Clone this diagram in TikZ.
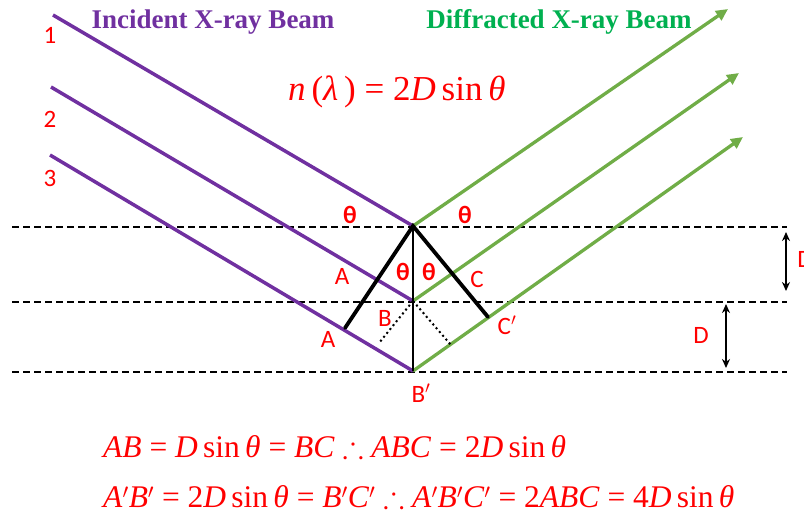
\documentclass[tikz,border=0pt]{standalone}
\usepackage{fontspec}
\usepackage{amssymb}
\setmainfont{Liberation Serif}
\newfontfamily\labfont{Carlito}
\usetikzlibrary{arrows.meta}
\definecolor{purp}{HTML}{7030A0}
\definecolor{grn}{HTML}{70AD47}
\definecolor{grntxt}{HTML}{00B050}
\definecolor{myred}{HTML}{FF0000}
\newcommand{\pr}{$^{\prime}$}
\tikzset{
  incident/.style={purp, line width=3.5pt},
  diffracted/.style={grn, line width=3.3pt, -{Triangle[length=12pt,width=11pt]}},
  plane/.style={black, line width=1.8pt, dash pattern=on 7pt off 4pt},
  construct/.style={black, line width=3.8pt},
  dotline/.style={black, line width=2pt, dash pattern=on 2pt off 3pt},
  dimarrow/.style={black, line width=1.8pt, {Stealth[length=9pt,width=8pt]}-{Stealth[length=9pt,width=8pt]}},
  lab/.style={text=myred, font=\labfont\fontsize{25}{25}\selectfont, inner sep=0pt},
  thlab/.style={text=myred, font=\labfont\bfseries\fontsize{25}{25}\selectfont, inner sep=0pt},
  title/.style={font=\bfseries\fontsize{27}{27}\selectfont, inner sep=0pt},
  eq/.style={text=myred, font=\fontsize{31.5}{31.5}\selectfont, inner sep=0pt, anchor=west}
}
\begin{document}
\begin{tikzpicture}[x=1pt,y=-1pt]
\useasboundingbox (0,0) rectangle (804,515);
% planes
\coordinate (L1) at (12,227); \coordinate (R1) at (787,227);
\coordinate (L2) at (12,302); \coordinate (R2) at (787,302);
\coordinate (L3) at (12,372); \coordinate (R3) at (787,372);
\draw[plane] (L1) -- (R1);
\draw[plane] (L2) -- (R2);
\draw[plane] (L3) -- (R3);
% reflection points
\coordinate (P1) at (413,226);
\coordinate (P2) at (413,301);
\coordinate (P3) at (413,371);
% incident rays
\coordinate (I1) at (53,15);
\coordinate (I2) at (51,87);
\coordinate (I3) at (50,155);
\draw[incident] (I1) -- (P1);
\draw[incident] (I2) -- (P2);
\draw[incident] (I3) -- (P3);
% diffracted rays
\coordinate (O1) at (728,9);
\coordinate (O2) at (739,73);
\coordinate (O3) at (743,137);
\draw[diffracted] (P1) -- (O1);
\draw[diffracted] (P2) -- (O2);
\draw[diffracted] (P3) -- (O3);
% construction
\coordinate (Ap) at (345,328);
\coordinate (Cp) at (488,317);
\coordinate (Da) at (379,343);
\coordinate (Dc) at (451,345);
\draw[construct, line cap=round] (Ap) -- (P1) -- (Cp);
\draw[black, line width=2pt] (P1) -- (P3);
\draw[dotline] (P2) -- (Da);
\draw[dotline] (P2) -- (Dc);
% dimension arrows
\coordinate (D1a) at (786,232); \coordinate (D1b) at (786,291);
\coordinate (D2a) at (726,304); \coordinate (D2b) at (726,368);
\draw[dimarrow] (D1a) -- (D1b);
\draw[dimarrow] (D2a) -- (D2b);
\node[lab] (dl1) at (805,259) {D};
\node[lab] (dl2) at (701,335) {D};
% labels
\node[lab] (n1) at (50,35) {1};
\node[lab] (n2) at (50,119) {2};
\node[lab] (n3) at (50,178) {3};
\node[thlab] (t1) at (350,215) {θ};
\node[thlab] (t2) at (465,215) {θ};
\node[thlab] (t3) at (403,272) {θ};
\node[thlab] (t4) at (429,272) {θ};
\node[lab] (la) at (342,276) {A};
\node[lab] (lc) at (477,279) {C};
\node[lab] (lb) at (385,318) {B};
\node[lab] (la2) at (328,339) {A};
\node[lab] (lc2) at (507,325) {C\pr};
\node[lab] (lb2) at (421,393) {B\pr};
% titles
\node[title, text=purp] (tin) at (213,22) {Incident X-ray Beam};
\node[title, text=grntxt] (tout) at (559,22) {Diffracted X-ray Beam};
% formulas
\node[eq, font=\fontsize{35}{35}\selectfont] (bragg) at (288,92) {\textit{n}\,(\textit{λ}\,) = 2\textit{D}\,sin\,\textit{θ}};
\node[eq] (eq1) at (103,447) {\textit{AB} = \textit{D}\,sin\,\textit{θ} = \textit{BC} $\therefore$ \textit{ABC} = 2\textit{D}\,sin\,\textit{θ}};
\node[eq] (eq2) at (103,497) {\textit{A}$^{\prime}$\textit{B}$^{\prime}$ = 2\textit{D}\,sin\,\textit{θ} = \textit{B}$^{\prime}$\textit{C}$^{\prime}$ $\therefore$ \textit{A}$^{\prime}$\textit{B}$^{\prime}$\textit{C}$^{\prime}$ = 2\textit{ABC} = 4\textit{D}\,sin\,\textit{θ}};
\end{tikzpicture}
\end{document}
